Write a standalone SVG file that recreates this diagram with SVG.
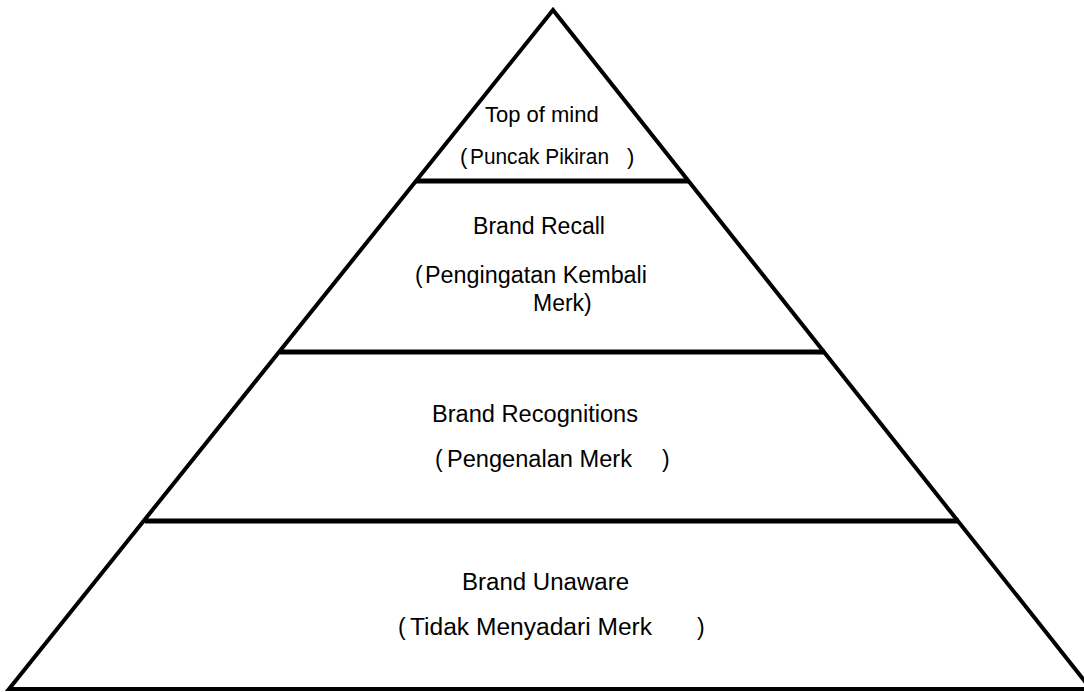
<svg xmlns="http://www.w3.org/2000/svg" width="1084" height="692" viewBox="0 0 1084 692">
<style>
.edge{fill:none;stroke:#000;stroke-width:4;stroke-linejoin:miter}
.bar{stroke:#000;stroke-width:5}
.t{font-family:"Liberation Sans",Arial,sans-serif;font-size:23px;fill:#000}
.s{font-size:22px}
</style>
<rect width="1084" height="692" fill="#fff"/>
<g id="connectors">
<polygon class="edge" points="553,10 9,689 1091,689"/>
<line class="bar" x1="416" y1="181" x2="689" y2="181"/>
<line class="bar" x1="280" y1="352" x2="825" y2="352"/>
<line class="bar" x1="145" y1="521" x2="959" y2="521"/>
</g>
<g id="tier-top">
<text class="t s" x="485" y="122">Top of mind</text>
<text class="t s" x="460" y="164">(</text>
<text class="t s" x="470" y="164" textLength="139" lengthAdjust="spacingAndGlyphs">Puncak Pikiran</text>
<text class="t s" x="627" y="164">)</text>
</g>
<g id="tier-recall">
<text class="t" x="473" y="234" textLength="132" lengthAdjust="spacingAndGlyphs">Brand Recall</text>
<text class="t" x="415" y="283">(</text>
<text class="t" x="425" y="283" textLength="222" lengthAdjust="spacingAndGlyphs">Pengingatan Kembali</text>
<text class="t" x="533" y="311">Merk)</text>
</g>
<g id="tier-recognition">
<text class="t" x="432" y="422" textLength="206" lengthAdjust="spacingAndGlyphs">Brand Recognitions</text>
<text class="t" x="435" y="467">(</text>
<text class="t" x="447" y="467" textLength="185" lengthAdjust="spacingAndGlyphs">Pengenalan Merk</text>
<text class="t" x="662" y="467">)</text>
</g>
<g id="tier-unaware">
<text class="t" x="462" y="590" textLength="167" lengthAdjust="spacingAndGlyphs">Brand Unaware</text>
<text class="t" x="398" y="635">(</text>
<text class="t" x="410" y="635" textLength="242" lengthAdjust="spacingAndGlyphs">Tidak Menyadari Merk</text>
<text class="t" x="697" y="635">)</text>
</g>
</svg>
